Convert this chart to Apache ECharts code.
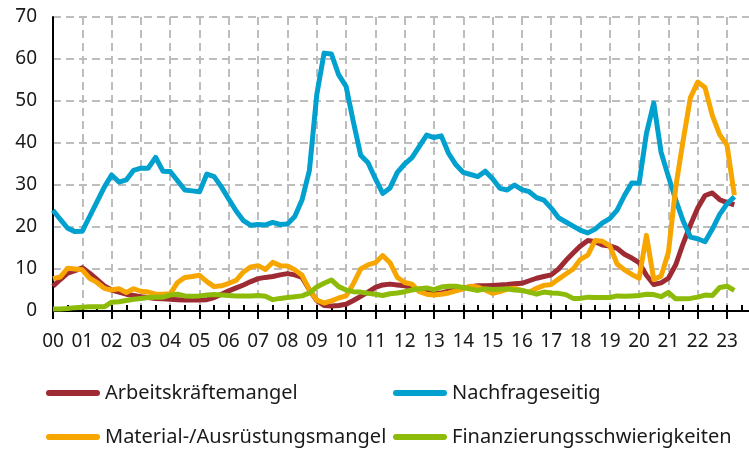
<!DOCTYPE html>
<html>
<head>
<meta charset="utf-8">
<script src="https://cdn.jsdelivr.net/npm/echarts@6/dist/echarts.min.js"></script>
<style>
  html, body { margin: 0; padding: 0; background: #fff; }
  #chart { width: 749px; height: 453px; }
</style>
</head>
<body>
<div id="chart"></div>
<script>
// Quartale 2000 Q1 bis 2023 Q4 (Achse), Daten bis 2023 Q2
var quarters = [];
for (var y = 2000; y <= 2023; y++) {
  for (var q = 1; q <= 4; q++) quarters.push(y + "Q" + q);
}

var arbeitskraefte = [
  5.9, 7.5, 9.0, 9.6, 10.3, 9.0, 7.5, 6.0, 5.0, 4.5, 4.0, 3.7, 3.4, 3.2, 3.0, 2.9,
  2.8, 2.7, 2.6, 2.6, 2.6, 2.7, 3.2, 4.0, 4.8, 5.5, 6.2, 7.0, 7.7, 8.0, 8.2, 8.6,
  8.9, 8.6, 8.0, 5.0, 2.5, 1.3, 1.2, 1.3, 1.6, 2.5, 3.5, 4.5, 5.6, 6.2, 6.4, 6.2,
  6.0, 5.6, 5.0, 4.5, 4.2, 4.3, 4.7, 5.1, 5.5, 5.8, 6.0, 6.0, 6.1, 6.2, 6.3, 6.5,
  6.6, 7.2, 7.8, 8.2, 8.6, 10.0, 12.0, 13.8, 15.5, 16.8, 16.5, 15.7, 15.5, 14.9, 13.5, 12.6,
  11.5, 8.5, 6.3, 6.7, 7.8, 11.0, 16.0, 20.5, 24.5, 27.5, 28.1, 26.5, 25.8, 25.3
];

var nachfrage = [
  24.0, 21.8, 19.7, 18.9, 19.0, 22.5, 26.0, 29.5, 32.4, 30.7, 31.2, 33.5, 34.0, 34.0, 36.6, 33.3,
  33.2, 31.0, 28.8, 28.6, 28.4, 32.6, 32.0, 29.5, 26.6, 23.8, 21.5, 20.4, 20.6, 20.5, 21.1, 20.6,
  20.7, 22.5, 26.5, 33.5, 51.5, 61.4, 61.2, 56.2, 53.5, 45.0, 37.1, 35.3, 31.5, 28.0, 29.3, 33.0,
  35.0, 36.5, 39.2, 41.9, 41.3, 41.7, 37.5, 34.8, 33.0, 32.5, 32.0, 33.3, 31.5, 29.2, 28.8, 30.0,
  28.9, 28.4, 27.0, 26.4, 24.5, 22.2, 21.2, 20.2, 19.2, 18.6, 19.5, 21.0, 22.0, 24.0, 27.5, 30.5,
  30.4, 42.3, 49.5, 37.8, 32.0, 26.5, 21.5, 17.6, 17.2, 16.5, 19.5, 23.0, 25.5, 27.2
];

var material = [
  7.7, 8.1, 10.2, 10.0, 9.8, 7.8, 6.8, 5.4, 5.0, 5.3, 4.4, 5.3, 4.7, 4.5, 4.0, 4.0,
  4.1, 6.8, 8.0, 8.2, 8.5, 7.0, 5.8, 6.0, 6.6, 7.3, 9.3, 10.5, 10.8, 9.9, 11.6, 10.8,
  10.7, 9.8, 8.5, 5.0, 2.6, 1.9, 2.4, 3.1, 3.6, 6.5, 10.0, 11.0, 11.5, 13.2, 11.5, 8.0,
  6.8, 6.4, 4.6, 4.0, 3.8, 4.0, 4.3, 4.8, 5.3, 5.9, 5.7, 5.0, 4.2, 4.6, 5.2, 5.4,
  4.9, 4.5, 5.4, 6.1, 6.3, 7.6, 8.8, 10.0, 12.3, 13.3, 16.8, 16.6, 15.5, 11.2, 9.8, 8.7,
  7.8, 18.0, 7.5, 8.3, 14.0, 29.5, 40.5, 50.8, 54.5, 53.2, 46.5, 42.0, 39.5, 27.6
];

var finanzierung = [
  0.5, 0.5, 0.6, 0.8, 0.9, 1.0, 1.0, 1.0, 2.1, 2.2, 2.5, 2.8, 3.0, 3.2, 3.3, 3.3,
  3.8, 4.0, 3.6, 3.5, 3.6, 3.8, 3.9, 3.8, 3.7, 3.6, 3.6, 3.6, 3.7, 3.5, 2.7, 3.0,
  3.2, 3.4, 3.6, 4.3, 5.7, 6.6, 7.4, 5.8, 5.0, 4.6, 4.5, 4.2, 4.0, 3.7, 4.1, 4.3,
  4.6, 5.0, 5.3, 5.5, 5.1, 5.7, 5.9, 5.9, 5.6, 5.2, 4.9, 5.3, 5.1, 5.2, 5.3, 5.0,
  4.9, 4.5, 4.0, 4.5, 4.3, 4.2, 3.9, 3.0, 3.0, 3.3, 3.2, 3.2, 3.2, 3.6, 3.5, 3.6,
  3.7, 4.0, 3.9, 3.4, 4.4, 2.9, 2.9, 3.0, 3.3, 3.8, 3.7, 5.6, 5.9, 4.9
];

var seriesNames = ["Arbeitskräftemangel", "Nachfrageseitig", "Material-/Ausrüstungsmangel", "Finanzierungsschwierigkeiten"];
var seriesData = [arbeitskraefte, nachfrage, material, finanzierung];
var colors = ["#9e2a33", "#00a0cf", "#f7a600", "#8cbb0a"];

var fontFamily = "Noto Sans";
var textColor = "#1a1a1a";
var gridLine = { color: "#bdbdbd", width: 2, type: [8, 5] };

// Legendensymbol: dicke Linie mit runden Enden
var legendIcon = "path://M3,0 L51,0 A3,3 0 0 1 51,6 L3,6 A3,3 0 0 1 3,0 Z";

function makeLegend(name, left, top) {
  return {
    data: [name],
    left: left,
    top: top,
    icon: legendIcon,
    itemWidth: 54,
    itemHeight: 6,
    padding: 0,
    selectedMode: false,
    textStyle: { fontFamily: fontFamily, fontSize: 20, color: textColor, lineHeight: 20 },
  };
}

var chart = echarts.init(document.getElementById("chart"));

var option = {
  animation: false,
  color: colors,
  grid: { left: 53, right: -3, top: 17, bottom: 142 },
  legend: [
    makeLegend(seriesNames[0], 46, 383),
    makeLegend(seriesNames[1], 393, 383),
    makeLegend(seriesNames[2], 46, 427),
    makeLegend(seriesNames[3], 393, 427),
  ],
  xAxis: [
    {
      type: "category",
      data: quarters,
      boundaryGap: false,
      position: "bottom",
      axisLine: { lineStyle: { color: "#000", width: 2 } },
      // Jahresstriche nach unten
      axisTick: {
        show: true,
        inside: false,
        length: 8,
        interval: function (i) { return i % 4 === 0; },
        lineStyle: { color: "#000", width: 2 },
      },
      axisLabel: {
        interval: function (i) { return i % 4 === 0; },
        formatter: function (v) { return v.slice(2, 4); },
        fontFamily: fontFamily,
        fontSize: 19,
        color: textColor,
        margin: 21,
      },
      splitLine: {
        show: true,
        interval: function (i) { return i % 4 === 0; },
        lineStyle: gridLine,
      },
    },
    {
      // Halbjahresstriche nach oben
      type: "category",
      data: quarters,
      boundaryGap: false,
      position: "bottom",
      axisLine: { lineStyle: { color: "#000", width: 2 } },
      axisTick: {
        show: true,
        inside: true,
        length: 6,
        interval: function (i) { return i % 2 === 0; },
        lineStyle: { color: "#000", width: 2 },
      },
      axisLabel: { show: false },
      splitLine: { show: false },
    },
  ],
  yAxis: {
    type: "value",
    min: 0,
    max: 70,
    interval: 10,
    axisLine: { show: true, lineStyle: { color: "#000", width: 2 } },
    axisTick: { show: false },
    axisLabel: { fontFamily: fontFamily, fontSize: 19, color: textColor, margin: 16 },
    splitLine: { show: true, lineStyle: gridLine },
  },
  series: seriesNames.map(function (name, i) {
    return {
      name: name,
      type: "line",
      xAxisIndex: 0,
      data: seriesData[i],
      showSymbol: false,
      symbol: "none",
      lineStyle: { width: 5, color: colors[i], join: "round" },
      itemStyle: { color: colors[i] },
      emphasis: { disabled: true },
    };
  }),
};

chart.setOption(option);
</script>
</body>
</html>
